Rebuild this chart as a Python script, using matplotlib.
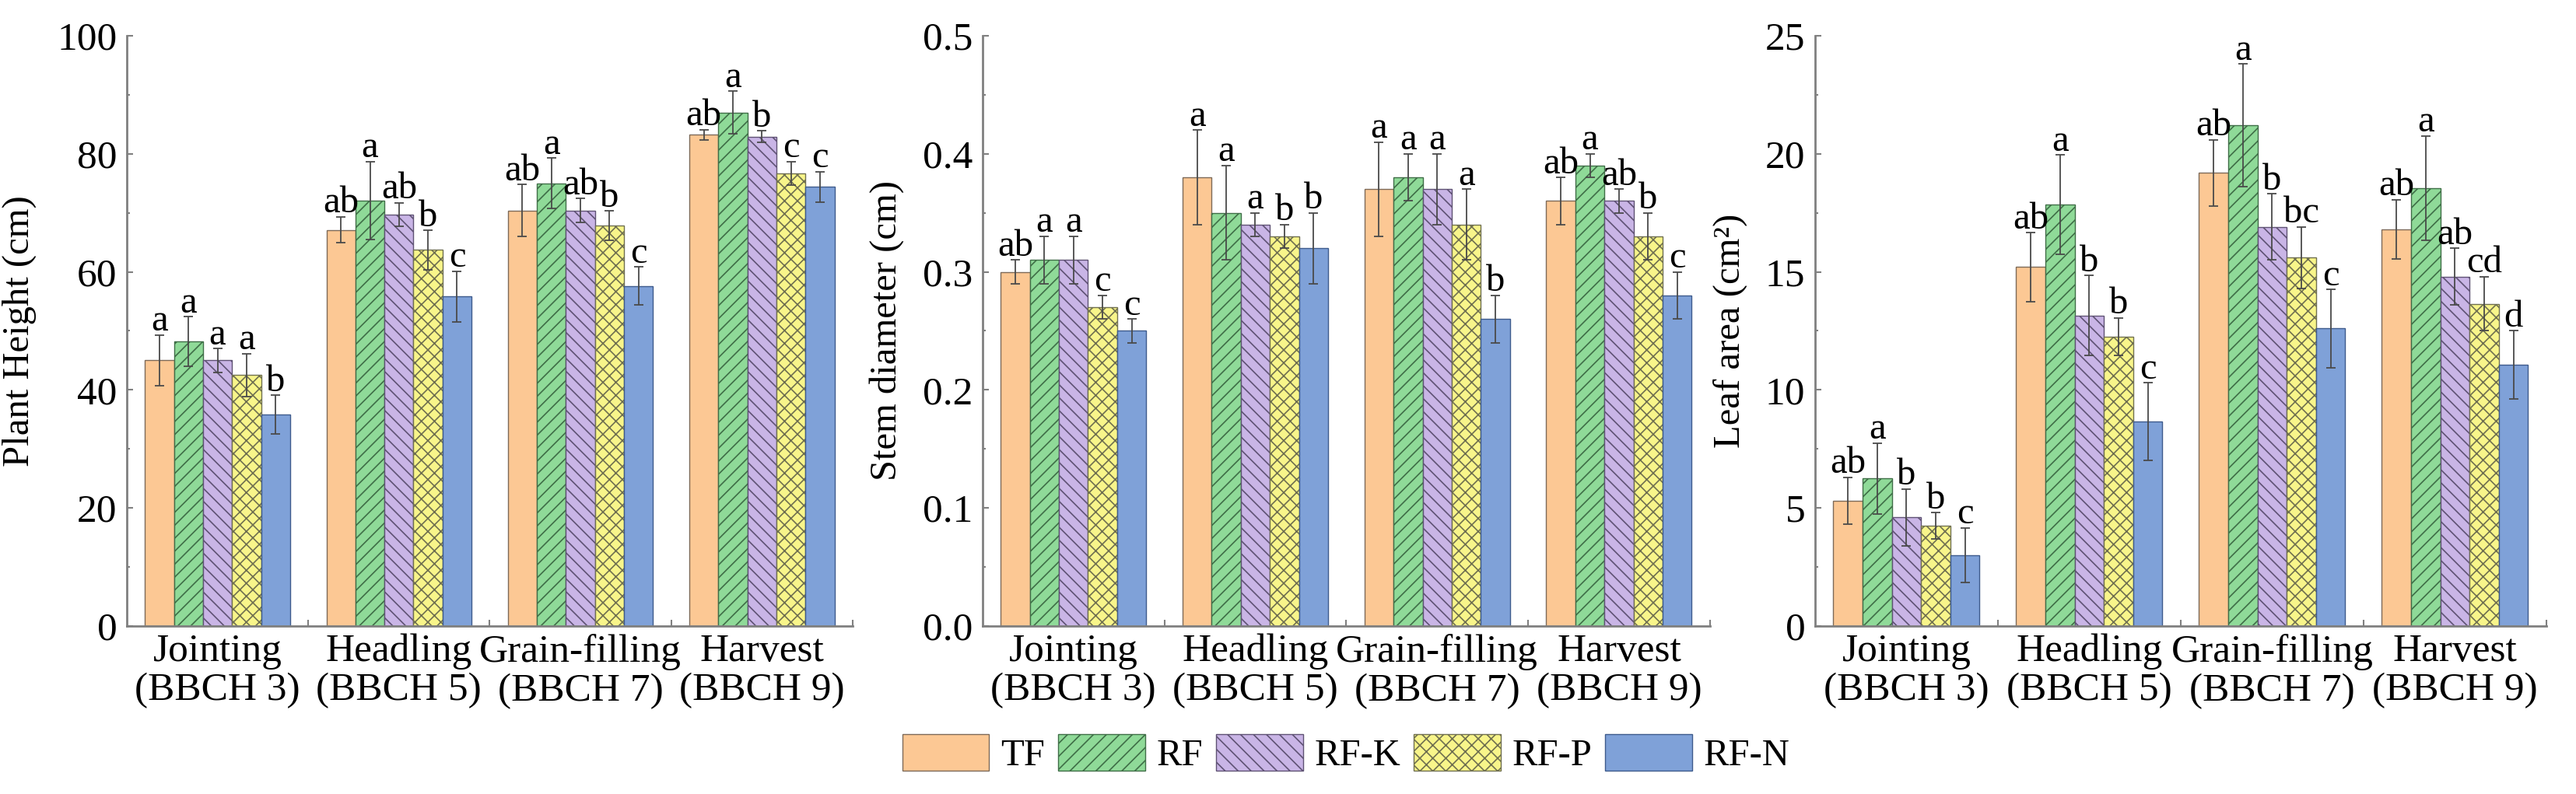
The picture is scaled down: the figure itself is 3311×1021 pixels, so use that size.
import numpy as np
import matplotlib
matplotlib.use('Agg')
import matplotlib.pyplot as plt
from matplotlib.patches import Patch
from matplotlib.ticker import MultipleLocator, FixedLocator, NullFormatter

# serif font like Times New Roman
plt.rcParams['font.family'] = ['Liberation Serif', 'DejaVu Serif']
plt.rcParams['hatch.linewidth'] = 1.2

stages = ['Jointing\n(BBCH 3)', 'Headling\n(BBCH 5)', 'Grain-filling\n(BBCH 7)', 'Harvest\n(BBCH 9)']
treatments = ['TF', 'RF', 'RF-K', 'RF-P', 'RF-N']

# plant height (cm), rows = treatments, cols = stages
height_mean = [[45.0, 67.1, 70.4, 83.2],
               [48.2, 72.1, 75.0, 87.0],
               [45.0, 69.7, 70.4, 82.9],
               [42.5, 63.7, 67.8, 76.7],
               [35.8, 55.8, 57.6, 74.4]]
height_err = [[4.3, 2.2, 4.4, 0.9],
              [4.2, 6.6, 4.3, 3.6],
              [2.0, 2.0, 2.0, 1.0],
              [3.6, 3.3, 2.5, 2.0],
              [3.3, 4.3, 3.2, 2.6]]
height_letters = [['a', 'ab', 'ab', 'ab'],
                  ['a', 'a', 'a', 'a'],
                  ['a', 'ab', 'ab', 'b'],
                  ['a', 'b', 'b', 'c'],
                  ['b', 'c', 'c', 'c']]

# stem diameter (cm)
stem_mean = [[0.30, 0.38, 0.37, 0.36],
             [0.31, 0.35, 0.38, 0.39],
             [0.31, 0.34, 0.37, 0.36],
             [0.27, 0.33, 0.34, 0.33],
             [0.25, 0.32, 0.26, 0.28]]
stem_err = [[0.01, 0.04, 0.04, 0.02],
            [0.02, 0.04, 0.02, 0.01],
            [0.02, 0.01, 0.03, 0.01],
            [0.01, 0.01, 0.03, 0.02],
            [0.01, 0.03, 0.02, 0.02]]
stem_letters = [['ab', 'a', 'a', 'ab'],
                ['a', 'a', 'a', 'a'],
                ['a', 'a', 'a', 'ab'],
                ['c', 'b', 'a', 'b'],
                ['c', 'b', 'b', 'c']]

# leaf area (cm2)
leaf_mean = [[5.3, 15.2, 19.2, 16.8],
             [6.25, 17.85, 21.2, 18.55],
             [4.6, 13.15, 16.9, 14.8],
             [4.25, 12.25, 15.6, 13.65],
             [3.0, 8.65, 12.6, 11.05]]
leaf_err = [[1.0, 1.45, 1.4, 1.25],
            [1.5, 2.1, 2.6, 2.2],
            [1.2, 1.7, 1.4, 1.2],
            [0.55, 0.8, 1.3, 1.15],
            [1.15, 1.65, 1.65, 1.45]]
leaf_letters = [['ab', 'ab', 'ab', 'ab'],
                ['a', 'a', 'a', 'a'],
                ['b', 'b', 'b', 'ab'],
                ['b', 'b', 'bc', 'cd'],
                ['c', 'c', 'c', 'd']]

face_colors = ['#FCC894', '#8FDA98', '#C9B5E6', '#F8F58A', '#7FA1D8']
edge_colors = ['#7d6a58', '#3f6e47', '#5f5274', '#707050', '#3e5b8c']
hatches = ['', '//', '\\\\', 'xx', '']

BAR_W = 0.16
FS = 37


def draw_panel(ax, means, errs, letters, ylim, major, ylabel, label_x):
    x = np.arange(len(stages))
    for i in range(len(treatments)):
        pos = x + (i - 2) * BAR_W
        ax.bar(pos, means[i], width=BAR_W, color=face_colors[i],
               edgecolor=edge_colors[i], linewidth=1.0, hatch=hatches[i],
               zorder=2)
        ax.errorbar(pos, means[i], yerr=errs[i], fmt='none', ecolor='#4a4a4a',
                    elinewidth=1.3, capsize=4.5, capthick=1.3, zorder=3)
        for j in range(len(stages)):
            ax.annotate(letters[i][j], (pos[j], means[i][j] + errs[i][j]),
                        xytext=(0, 4), textcoords='offset points',
                        ha='center', va='baseline', fontsize=35)

    ax.set_xlim(-0.5, len(stages) - 0.5)
    ax.set_ylim(*ylim)
    ax.set_xticks(x)
    ax.set_xticklabels(stages, fontsize=FS, linespacing=1.1)
    ax.xaxis.set_minor_locator(FixedLocator(np.arange(0.5, len(stages), 1.0)))
    ax.xaxis.set_minor_formatter(NullFormatter())
    ax.tick_params(axis='x', which='major', length=0, pad=7)
    ax.tick_params(axis='x', which='minor', direction='in', length=6,
                   width=1.5, color='#808080')

    ax.yaxis.set_major_locator(MultipleLocator(major))
    ax.yaxis.set_minor_locator(MultipleLocator(major / 2))
    ax.tick_params(axis='y', which='major', direction='in', length=6,
                   width=1.5, color='#808080', labelsize=FS, pad=9)
    ax.tick_params(axis='y', which='minor', direction='in', length=3,
                   width=1.5, color='#808080')

    ax.set_ylabel(ylabel, fontsize=35)
    ax.yaxis.set_label_coords(label_x, 0.5)

    for side in ['top', 'right']:
        ax.spines[side].set_visible(False)
    for side in ['left', 'bottom']:
        ax.spines[side].set_color('#808080')
        ax.spines[side].set_linewidth(2)


fig = plt.figure(figsize=(33.12, 10.21), dpi=100)
bottom = 0.2116
height = 0.7434
ax1 = fig.add_axes([0.0492, bottom, 0.2817, height])
ax2 = fig.add_axes([0.3813, bottom, 0.2823, height])
ax3 = fig.add_axes([0.7044, bottom, 0.2838, height])

draw_panel(ax1, height_mean, height_err, height_letters, (0, 100), 20,
           'Plant Height (cm)', -0.124)
draw_panel(ax2, stem_mean, stem_err, stem_letters, (0, 0.5), 0.1,
           'Stem diameter (cm)', -0.108)
ax2.yaxis.set_major_formatter(plt.FormatStrFormatter('%.1f'))
draw_panel(ax3, leaf_mean, leaf_err, leaf_letters, (0, 25), 5,
           'Leaf area (cm²)', -0.092)

handles = [Patch(facecolor=face_colors[i], edgecolor=edge_colors[i],
                 hatch=hatches[i], linewidth=1.0) for i in range(len(treatments))]
fig.legend(handles, treatments, loc='center', bbox_to_anchor=(0.5224, 0.051),
           ncol=5, frameon=False, fontsize=35, handlelength=2.3,
           handleheight=1.13, handletextpad=0.3, columnspacing=0.35)

fig.savefig('out.png', dpi=100)
